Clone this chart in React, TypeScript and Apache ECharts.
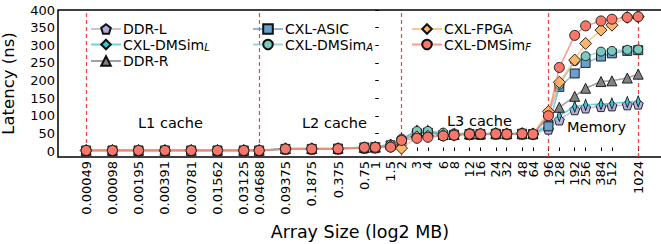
import React, { useEffect, useRef } from "react";
import * as echarts from "echarts";

const sizes = ["0.00049","0.00098","0.00195","0.00391","0.00781","0.01562","0.03125","0.04688","0.09375","0.1875","0.375","0.75","1","1.5","2","3","4","6","8","12","16","24","32","48","64","96","128","192","256","384","512","768","1024"];

const ddrL = [1.2,1.2,1.2,1.2,1.2,1.2,1.2,1.2,5,5,5.5,8,9,14,28,52,52,46,46,47,47,48,48,48,48,62,88,117,122,126,128,131,133];
const dmsimL = [1.5,1.5,1.5,1.5,1.5,1.5,1.5,1.5,6,6,6.5,9,10,16,34,57,57,49,48,49,49,50,49,50,49,76,100,126,131,133,135,139,141];
const ddrR = [2,2,2,2,2,2,2,2,7,7,7.5,10,11,20,32,58,57,47,47,48,48,49,49,49,49,95,124,155,178,197,199,207,218];
const cxlAsic = [1.5,1.5,1.5,1.5,1.5,1.5,1.5,1.5,6,6,7,10,11,16,27,50,52,45,46,48,48,49,48,49,48,70,182,220,250,268,277,284,286];
const dmsimA = [1.5,1.5,1.5,1.5,1.5,1.5,1.5,1.5,7,7,7.5,11,12,18,35,57,57,52,50,51,50,51,50,51,50,102,188,255,269,282,284,287,288];
const cxlFpga = [1.5,1.5,1.5,1.5,1.5,1.5,1.5,1.5,6,6,6.5,9,10,12,8,40,42,44,45,47,48,49,48,49,48,112,195,258,305,343,357,379,381];
const dmsimF = [1.5,1.5,1.5,1.5,1.5,1.5,1.5,1.5,6,6,6.5,10,10.5,11,30,36,39,43,45,48,48.5,49,48,49,48,100,237,328,355,369,374,379,381];

const boundaries = ["0.00049", "0.04688", "2", "96", "1024"];
const yTicks = [0, 50, 100, 150, 200, 250, 300, 350, 400];

const regionLabels = [
  { text: "L1 cache", x: 138, y: 123 },
  { text: "L2 cache", x: 302, y: 123 },
  { text: "L3 cache", x: 447, y: 121 },
  { text: "Memory", x: 567, y: 127 },
];

const PENTAGON = "path://M0,-1 L0.951,-0.309 L0.588,0.809 L-0.588,0.809 L-0.951,-0.309 Z";
const THIN_DIAMOND = "path://M0,-1 L0.6,0 L0,1 L-0.6,0 Z";

const seriesDefs = [
  { name: "DDR-L", values: ddrL, color: "#b6aed8", symbol: PENTAGON, size: 10, keep: false },
  { name: "CXL-DMSim_L", values: dmsimL, color: "#3cc3d8", symbol: THIN_DIAMOND, size: [7, 11], keep: true },
  { name: "DDR-R", values: ddrR, color: "#828282", symbol: "triangle", size: 10, keep: false },
  { name: "CXL-ASIC", values: cxlAsic, color: "#6b9fce", symbol: "rect", size: 9, keep: false },
  { name: "CXL-DMSim_A", values: dmsimA, color: "#7cc8bd", symbol: "circle", size: 9, keep: false },
  { name: "CXL-FPGA", values: cxlFpga, color: "#fbb66c", symbol: "diamond", size: 12, keep: false },
  { name: "CXL-DMSim_F", values: dmsimF, color: "#f7786a", symbol: "circle", size: 10, keep: false },
];

const FONT = "DejaVu Sans";
const lg = (v: string) => Math.log2(Number(v));

export default function App() {
  const ref = useRef<HTMLDivElement>(null);
  useEffect(() => {
    if (!ref.current) return;
    const chart = echarts.init(ref.current, null, { renderer: "svg" });
    const xVals = sizes.map(lg);
    const labelFor = (v: number) => {
      let best = "";
      let d = 1e9;
      sizes.forEach((s, i) => {
        const dd = Math.abs(xVals[i] - v);
        if (dd < d) { d = dd; best = s; }
      });
      return d < 1e-6 ? best : "";
    };
    const series: any[] = seriesDefs.map((s, si) => ({
      type: "line",
      name: s.name,
      data: s.values.map((v, i) => [xVals[i], v]),
      symbol: s.symbol,
      symbolSize: s.size,
      symbolKeepAspect: s.keep,
      showAllSymbol: true,
      clip: false,
      lineStyle: { color: s.color, width: 1.5, opacity: 0.75 },
      itemStyle: { color: s.color, borderColor: "#111", borderWidth: 0.9 },
      z: 3 + si,
      markLine: si === seriesDefs.length - 1 ? {
        silent: true,
        symbol: ["none", "none"],
        label: { show: false },
        lineStyle: { color: "#f03030", type: [4, 3], width: 1.2, opacity: 0.9 },
        data: boundaries.map((b) => ({ xAxis: lg(b) })),
        z: 1,
      } : undefined,
    }));
    const formatter = (name: string) => {
      const k = name.indexOf("_");
      if (k < 0) return `{n|${name}}`;
      return `{n|${name.slice(0, k)}}{s|${name.slice(k + 1)}}`;
    };
    const rich = {
      n: { fontFamily: FONT, fontSize: 14, color: "#000", lineHeight: 16 },
      s: { fontFamily: FONT, fontSize: 10, fontStyle: "italic", color: "#000", lineHeight: 16, verticalAlign: "bottom", padding: [5, 0, 0, 0] },
    };
    const legendBase = {
      orient: "vertical",
      itemWidth: 30,
      itemHeight: 12,
      itemGap: 1.5,
      top: 17,
      formatter,
      textStyle: { fontFamily: FONT, fontSize: 14, color: "#000", rich, padding: [0, 0, 0, -3] },
      selectedMode: false,
    };
    chart.setOption({
      animation: false,
      backgroundColor: "#fff",
      grid: { left: 58, top: 10, width: 604, height: 147, show: true, containLabel: false, outerBoundsMode: "none", borderColor: "#000", borderWidth: 1.5, backgroundColor: "transparent" },
      legend: [
        { ...legendBase, left: 85, data: ["DDR-L", "CXL-DMSim_L", "DDR-R"] },
        { ...legendBase, left: 247, data: ["CXL-ASIC", "CXL-DMSim_A"] },
        { ...legendBase, left: 406, data: ["CXL-FPGA", "CXL-DMSim_F"] },
      ],
      xAxis: {
        type: "value",
        min: -12.065,
        max: 10.905,
        name: "Array Size (log2 MB)",
        nameLocation: "middle",
        nameGap: 59,
        nameTextStyle: { fontFamily: FONT, fontSize: 17.5, color: "#000" },
        axisLine: { show: false },
        splitLine: { show: false },
        axisTick: { show: true, inside: true, length: 3.5, customValues: xVals, lineStyle: { color: "#000", width: 1 } },
        axisLabel: {
          customValues: xVals,
          rotate: 90,
          margin: 4,
          fontFamily: FONT,
          fontSize: 13,
          color: "#000",
          formatter: (v: number) => labelFor(v),
          hideOverlap: false,
          showMinLabel: true,
          showMaxLabel: true,
        },
      },
      yAxis: {
        type: "value",
        min: -17,
        max: 400,
        name: "Latency (ns)",
        nameLocation: "middle",
        nameGap: 41,
        nameTextStyle: { fontFamily: FONT, fontSize: 16.5, color: "#000" },
        axisLine: { show: false },
        splitLine: { show: false },
        axisTick: { show: true, inside: true, length: 3.5, customValues: yTicks, lineStyle: { color: "#000", width: 1 } },
        axisLabel: { customValues: yTicks, margin: 3, fontFamily: FONT, fontSize: 13, color: "#000" },
      },
      graphic: regionLabels.map((r) => ({
        type: "text",
        x: r.x,
        y: r.y,
        z: 10,
        style: { text: r.text, fontFamily: FONT, fontSize: 14.5, fill: "#000", verticalAlign: "middle", textAlign: "left" },
      })),
      series,
    });
    return () => chart.dispose();
  }, []);
  return <div ref={ref} style={{ width: 661, height: 244, position: "absolute", left: 0, top: 0 }} />;
}
